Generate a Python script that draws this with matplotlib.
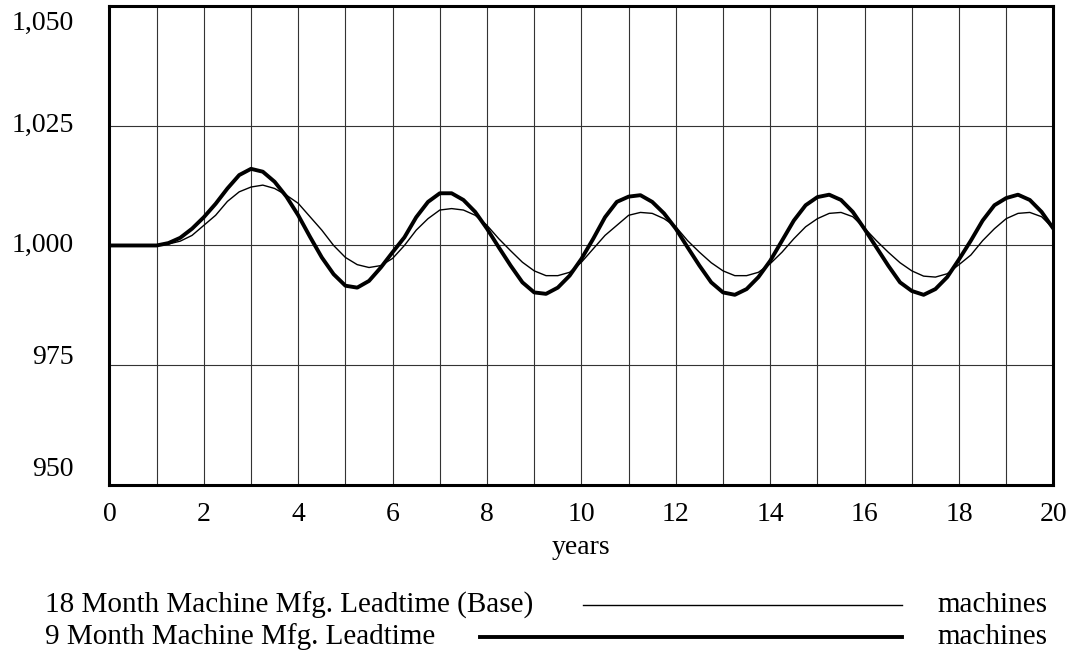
import numpy as np
import matplotlib.pyplot as plt
from matplotlib.lines import Line2D
from matplotlib.transforms import blended_transform_factory

plt.rcParams['font.family'] = ['Liberation Serif', 'DejaVu Serif']

# simulation time, years (quarter-year save interval)
years = np.arange(0, 20.25, 0.25)

# machines, 18 month manufacturing leadtime (base run)
machines_18m = [
    1000.0, 1000.0, 1000.0, 1000.0, 1000.0, 1000.3, 1000.9, 1002.1,
    1004.2, 1006.3, 1009.2, 1011.2, 1012.2, 1012.6, 1011.9, 1010.5,
    1008.8, 1006.0, 1003.2, 1000.0, 997.5, 996.0, 995.4, 995.8,
    997.3, 1000.0, 1003.2, 1005.6, 1007.4, 1007.7, 1007.4, 1006.3,
    1004.2, 1001.4, 998.9, 996.5, 994.7, 993.7, 993.7, 994.4,
    996.5, 999.3, 1002.1, 1004.2, 1006.3, 1006.9, 1006.7, 1005.6,
    1003.9, 1001.0, 998.6, 996.4, 994.7, 993.7, 993.7, 994.4,
    996.2, 998.6, 1001.4, 1003.9, 1005.6, 1006.7, 1006.9, 1006.0,
    1003.6, 1001.0, 998.6, 996.4, 994.7, 993.6, 993.4, 994.1,
    996.0, 998.0, 1001.0, 1003.5, 1005.6, 1006.7, 1006.9, 1006.0,
    1003.5,
]

# machines, 9 month manufacturing leadtime
machines_9m = [
    1000.0, 1000.0, 1000.0, 1000.0, 1000.0, 1000.5, 1001.6, 1003.5,
    1005.9, 1008.7, 1011.9, 1014.7, 1016.0, 1015.4, 1013.3, 1010.2,
    1006.3, 1001.8, 997.5, 994.0, 991.6, 991.2, 992.6, 995.4,
    998.6, 1001.7, 1005.9, 1009.1, 1010.9, 1010.9, 1009.5, 1007.0,
    1003.5, 999.6, 995.8, 992.3, 990.2, 989.9, 991.2, 993.7,
    997.2, 1001.4, 1005.9, 1009.1, 1010.2, 1010.5, 1009.1, 1006.7,
    1003.5, 999.6, 995.8, 992.3, 990.2, 989.7, 990.9, 993.4,
    996.8, 1001.0, 1005.2, 1008.4, 1010.1, 1010.6, 1009.5, 1007.0,
    1003.4, 999.6, 995.8, 992.3, 990.5, 989.7, 990.9, 993.4,
    997.1, 1001.0, 1005.2, 1008.4, 1009.9, 1010.6, 1009.5, 1007.0,
    1003.5,
]

x_ticks = [0, 2, 4, 6, 8, 10, 12, 14, 16, 18, 20]
y_ticks = [950, 975, 1000, 1025, 1050]
y_tick_labels = ['950', '975', '1,000', '1,025', '1,050']
# where each y label sits (the end labels are pulled inside the frame)
y_label_pos = [953.2, 976.7, 1000, 1025, 1046.4]

series_names = ['18 Month Machine Mfg. Leadtime (Base)', '9 Month Machine Mfg. Leadtime']
series_units = ['machines', 'machines']

fig = plt.figure(figsize=(10.78, 6.56), dpi=100)
ax = fig.add_axes([0.1015, 0.2607, 0.8757, 0.7302])

ax.plot(years, machines_18m, color='black', lw=1.0, solid_joinstyle='round')
ax.plot(years, machines_9m, color='black', lw=2.8, solid_joinstyle='round')

ax.set_xlim(0, 20)
ax.set_ylim(950, 1050)
ax.set_xticks(range(0, 21))
ax.set_yticks(y_ticks)
ax.grid(True, color='#333333', lw=0.8)
ax.tick_params(length=0, labelleft=False, labelbottom=False)
for s in ax.spines.values():
    s.set_linewidth(2.2)

fs = 20
for t in x_ticks:
    ax.text(t, -0.035, str(t), transform=blended_transform_factory(ax.transData, ax.transAxes),
            ha='center', va='top', fontsize=fs)
for lab, pos in zip(y_tick_labels, y_label_pos):
    ax.text(-0.038, pos, lab, transform=blended_transform_factory(ax.transAxes, ax.transData),
            ha='right', va='center', fontsize=fs)
ax.text(0.5, -0.105, 'years', transform=ax.transAxes, ha='center', va='top', fontsize=fs)

# legend rows below the plot
W, H = 1078, 656
rows_y = [605, 637]
line_x0 = [583, 480]
line_w = [1.0, 2.8]
for name, unit, yy, x0, lw in zip(series_names, series_units, rows_y, line_x0, line_w):
    fy = 1 - yy / H
    fig.text(45 / W, fy, name, ha='left', va='center', fontsize=21)
    fig.add_artist(Line2D([x0 / W, 902 / W], [fy, fy], color='black', lw=lw))
    fig.text(1047 / W, fy, unit, ha='right', va='center', fontsize=21)

fig.savefig('out.png', dpi=100)
